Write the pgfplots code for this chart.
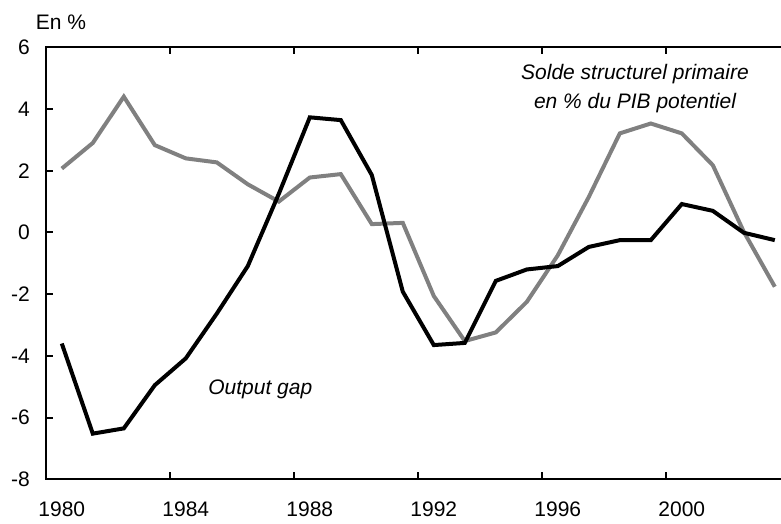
\documentclass[border=0pt]{standalone}
\usepackage{pgfplots}
\pgfplotsset{compat=1.18}
\usepackage{fontspec}
\setmainfont{Liberation Sans}
\definecolor{sgrey}{RGB}{128,128,128}
\begin{document}
\fontsize{21pt}{25pt}\selectfont
\begin{tikzpicture}
\useasboundingbox (0,0) rectangle (781pt,523pt);
\node[anchor=base west, inner sep=0pt] at (35.7pt,493pt) {En \%};
\begin{axis}[
  at={(46.3pt,43.7pt)}, anchor=south west,
  scale only axis, width=744pt, height=432pt,
  xmin=1979.5, xmax=2003.5, ymin=-8, ymax=6,
  axis line style={line width=2.3pt, black},
  tick align=inside,
  xtick={1980,1984,1988,1992,1996,2000},
  xticklabels={1980,1984,1988,1992,1996,2000},
  major x tick style={draw=none},
  minor xtick={1983.5,1987.5,1991.5,1995.5,1999.5},
  minor tick length=7pt,
  minor x tick style={line width=2pt, black},
  ytick={-8,-6,-4,-2,0,2,4,6},
  yticklabels={-8,-6,-4,-2,0,2,4,6},
  major tick length=7pt,
  major y tick style={line width=2pt, black},
  xticklabel style={anchor=base, inner sep=0pt, yshift=-37.2pt, font=\fontsize{21pt}{25pt}\selectfont},
  yticklabel style={anchor=east, inner sep=0pt, xshift=-16.3pt, font=\fontsize{21pt}{25pt}\selectfont},
]
\addplot[sgrey, line width=4pt, line join=miter, miter limit=2] coordinates {
(1980,2.07) (1981,2.90) (1982,4.40) (1983,2.83) (1984,2.40) (1985,2.27)
(1986,1.56) (1987,1.00) (1988,1.78) (1989,1.89) (1990,0.27) (1991,0.31)
(1992,-2.06) (1993,-3.52) (1994,-3.24) (1995,-2.25) (1996,-0.74) (1997,1.15)
(1998,3.21) (1999,3.53) (2000,3.21) (2001,2.18) (2002,0.02) (2003,-1.76)
};
\addplot[black, line width=4pt, line join=miter, miter limit=2] coordinates {
(1980,-3.60) (1981,-6.52) (1982,-6.35) (1983,-4.95) (1984,-4.08) (1985,-2.63)
(1986,-1.09) (1987,1.25) (1988,3.73) (1989,3.64) (1990,1.86) (1991,-1.92)
(1992,-3.65) (1993,-3.58) (1994,-1.57) (1995,-1.20) (1996,-1.09) (1997,-0.47)
(1998,-0.25) (1999,-0.25) (2000,0.92) (2001,0.70) (2002,-0.01) (2003,-0.25)
};
\node[anchor=base west, inner sep=0pt, font=\itshape] at (axis cs:1984.72,-5.26) {Output gap};
\node[anchor=base, inner sep=0pt, font=\itshape] at (axis cs:1998.49,4.94) {Solde structurel primaire};
\node[anchor=base, inner sep=0pt, font=\itshape] at (axis cs:1998.49,4.03) {en \% du PIB potentiel};
\end{axis}
\end{tikzpicture}
\end{document}
